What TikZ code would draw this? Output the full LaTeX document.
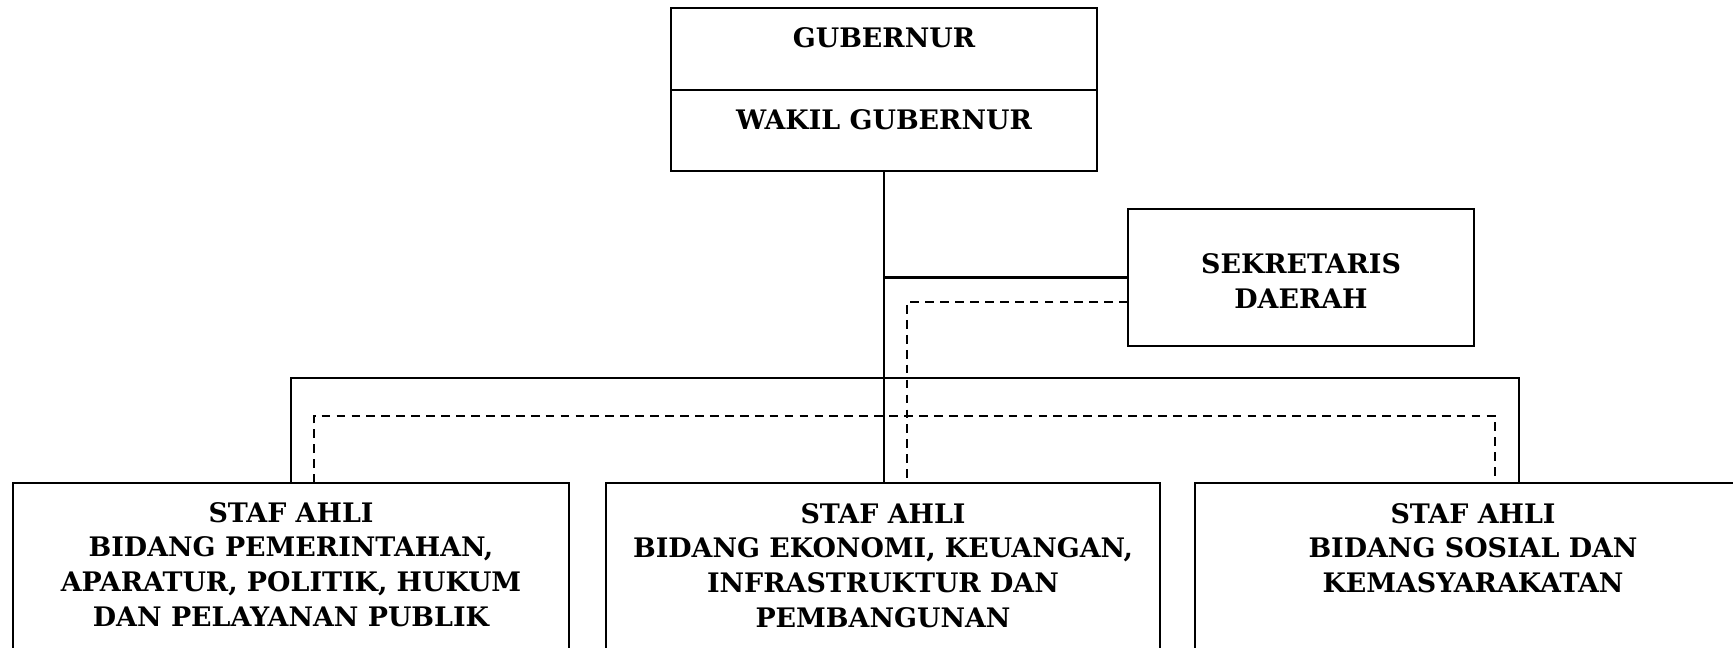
\documentclass[tikz,border=0pt]{standalone}
\usepackage{fontspec}
\setmainfont{DejaVu Serif}
\usetikzlibrary{positioning,calc}

\begin{document}
\begin{tikzpicture}[x=0.02cm, y=-0.02cm, line width=1.2pt,
    box/.style={draw, rectangle, inner sep=0pt, outer sep=0pt},
    lbl/.style={font=\bfseries\fontsize{15.3}{19.8}\selectfont, align=center, inner sep=0pt},
    dashline/.style={dash pattern=on 5pt off 3.5pt}]
    \clip (0,0) rectangle (1733,648);
    % --- top boxes ---
    \node[box, minimum width=8.52cm, minimum height=1.64cm] (gub) at (884,49) {};
    \node[box, minimum width=8.52cm, minimum height=1.62cm, below=0pt of gub] (wagub) {};
    \node[lbl] (tgub) at (884,38) {GUBERNUR};
    \node[lbl] (twagub) at (884,120) {WAKIL GUBERNUR};
    % --- sekretaris ---
    \node[box, minimum width=6.92cm, minimum height=2.74cm] (sek) at (1301,277.5) {};
    \node[lbl] (tsek) at (1301,281) {SEKRETARIS\\DAERAH};
    % --- staf ahli boxes ---
    \node[box, anchor=north, minimum width=11.12cm, minimum height=4.74cm] (left) at (291,483) {};
    \node[box, anchor=north, minimum width=11.08cm, minimum height=4.74cm] (mid) at (883,483) {};
    \node[box, anchor=north, minimum width=11.12cm, minimum height=4.74cm] (rt) at (1473,483) {};
    \node[lbl, anchor=north] (tleft) at (291,501)
      {STAF AHLI\\BIDANG PEMERINTAHAN,\\APARATUR, POLITIK, HUKUM\\DAN PELAYANAN PUBLIK};
    \node[lbl, anchor=north] (tmid) at (883,502)
      {STAF AHLI\\BIDANG EKONOMI, KEUANGAN,\\INFRASTRUKTUR DAN\\PEMBANGUNAN};
    \node[lbl, anchor=north] (trt) at (1473,502)
      {STAF AHLI\\BIDANG SOSIAL DAN\\KEMASYARAKATAN};
    % --- solid lines ---
    \coordinate (bus) at (884,378);
    \coordinate (rtin) at (1519,483);
    \draw (wagub.south) -- (wagub.south |- mid.north);
    \draw (sek.west) -- (sek.west -| wagub.south);
    \draw (left.north) |- (bus) -| (rtin);
    % --- dashed lines ---
    \coordinate (dbus) at (907,416);
    \coordinate (ldash) at (314,483);
    \coordinate (rdash) at (1495,483);
    \coordinate (mdash) at (907,483);
    \draw[dashline] (ldash) |- (dbus) -| (rdash);
    \draw[dashline] ($(sek.west)+(0,24.5)$) -| (mdash);
\end{tikzpicture}
\end{document}
